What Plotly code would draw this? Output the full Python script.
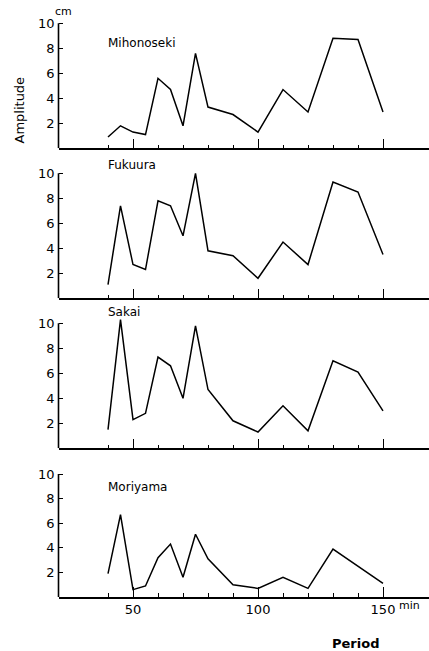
import plotly.graph_objects as go

# Period of oscillation (min) and amplitude (cm) at four tide stations
period = [40, 45, 50, 55, 60, 65, 70, 75, 80, 90, 100, 110, 120, 130, 140, 150]

mihonoseki = [0.9, 1.8, 1.3, 1.1, 5.6, 4.7, 1.8, 7.6, 3.3, 2.7, 1.3, 4.7, 2.9, 8.8, 8.7, 2.9]
fukuura = [1.1, 7.4, 2.7, 2.3, 7.8, 7.4, 5.0, 10.0, 3.8, 3.4, 1.6, 4.5, 2.7, 9.3, 8.5, 3.5]
sakai = [1.5, 10.3, 2.3, 2.8, 7.3, 6.6, 4.0, 9.8, 4.7, 2.2, 1.3, 3.4, 1.4, 7.0, 6.1, 3.0]
moriyama = [1.9, 6.7, 0.6, 0.9, 3.2, 4.3, 1.6, 5.1, 3.1, 1.0, 0.7, 1.6, 0.7, 3.9, None, 1.1]

stations = ["Mihonoseki", "Fukuura", "Sakai", "Moriyama"]
series = [mihonoseki, fukuura, sakai, moriyama]

y_ticks = [2, 4, 6, 8, 10]
x_major = [50, 100, 150]
x_minor = [40, 60, 70, 80, 90, 110, 120, 130, 140]

W, H = 429, 651
FONT = "DejaVu Sans"

# pixel positions of the zero line and the "10" line for each panel
zero_px = [148.3, 298.3, 448.3, 597.0]
ten_px = [23.3, 173.3, 323.3, 474.0]
YMAX = 10.6
label_px = [42.7, 165.0, 312.0, 487.0]

fig = go.Figure()
layout = dict(
    width=W, height=H,
    margin=dict(l=0, r=0, t=0, b=0),
    paper_bgcolor="white", plot_bgcolor="white",
    showlegend=False,
    font=dict(family=FONT, color="black"),
)

x0_px = 58.5
xr = [(x0_px - 8) / 2.5, (W - 8) / 2.5]

shapes = []
annotations = []
for i, (name, vals) in enumerate(zip(stations, series)):
    k = "" if i == 0 else str(i + 1)
    xa, ya = "x" + k, "y" + k
    fig.add_trace(go.Scatter(
        x=period, y=vals, mode="lines", connectgaps=True,
        line=dict(color="black", width=1.5),
        xaxis=xa, yaxis=ya, hoverinfo="skip",
    ))
    unit = (zero_px[i] - ten_px[i]) / 10
    top_px = zero_px[i] - YMAX * unit
    layout["xaxis" + k] = dict(
        domain=[x0_px / W, 1], range=xr, anchor=ya,
        showline=True, linecolor="black", linewidth=1.6,
        showgrid=False, zeroline=False,
        tickmode="array", tickvals=x_major,
        ticks="inside", ticklen=10, tickwidth=1.2, tickcolor="black",
        showticklabels=(i == 3),
        tickfont=dict(size=13, family=FONT, color="black"),
        minor=dict(tickmode="array", tickvals=x_minor, ticks="inside",
                   ticklen=4, tickwidth=1.1, tickcolor="black"),
    )
    layout["yaxis" + k] = dict(
        domain=[1 - zero_px[i] / H, 1 - top_px / H], range=[0, YMAX],
        anchor=xa, showline=False, showgrid=False, zeroline=False,
        tickmode="array", tickvals=y_ticks,
        ticks="inside", ticklen=4, tickwidth=1.2, tickcolor="black",
        ticklabelstandoff=3,
        tickfont=dict(size=13, family=FONT, color="black"),
    )
    # vertical axis line spanning 0 to 10 only
    shapes.append(dict(
        type="line", xref=xa + " domain", yref=ya,
        x0=0, x1=0, y0=0, y1=10,
        line=dict(color="black", width=1.6),
    ))
    annotations.append(dict(
        text=name, x=106 / W, y=1 - label_px[i] / H,
        xref="paper", yref="paper", xanchor="left", yanchor="middle",
        showarrow=False, font=dict(size=12, family=FONT, color="black"),
    ))


def note(text, px, py, size, angle=0):
    return dict(text=text, x=px / W, y=1 - py / H, xref="paper", yref="paper",
                xanchor="center", yanchor="middle", textangle=angle,
                showarrow=False, font=dict(size=size, family=FONT, color="black"))


annotations += [
    note("cm", 63, 11, 11),
    note("Amplitude", 18.5, 110, 13, -90),
    note("min", 409, 605, 11),
    note("<b>Period</b>", 355, 643, 13),
]

layout["shapes"] = shapes
layout["annotations"] = annotations
fig.update_layout(**layout)
fig.write_html("out.html")
